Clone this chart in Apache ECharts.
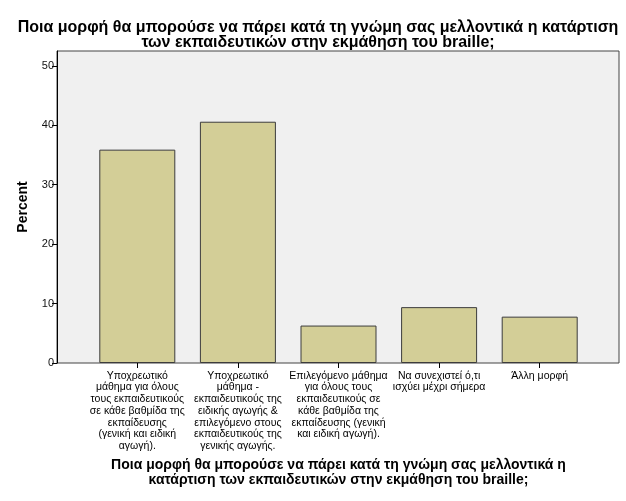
<!DOCTYPE html>
<html>
<head>
<meta charset="utf-8">
<script src="https://cdn.jsdelivr.net/npm/echarts@6/dist/echarts.min.js"></script>
<style>
  html, body { margin: 0; padding: 0; background: #fff; }
  #chart { width: 626px; height: 501px; }
</style>
</head>
<body>
<div id="chart"></div>
<script>
// categories (line breaks as in the original labels)
var categories = [
  'Υποχρεωτικό\nμάθημα για όλους\nτους εκπαιδευτικούς\nσε κάθε βαθμίδα της\nεκπαίδευσης\n(γενική και ειδική\nαγωγή).',
  'Υποχρεωτικό\nμάθημα -\nεκπαιδευτικούς της\nειδικής αγωγής &\nεπιλεγόμενο στους\nεκπαιδευτικούς της\nγενικής αγωγής.',
  'Επιλεγόμενο μάθημα\nγια όλους τους\nεκπαιδευτικούς σε\nκάθε βαθμίδα της\nεκπαίδευσης (γενική\nκαι ειδική αγωγή).',
  'Να συνεχιστεί ό,τι\nισχύει μέχρι σήμερα',
  'Άλλη μορφή'
];
var percent = [35.9, 40.6, 6.3, 9.4, 7.8];
var yTicks = [0, 10, 20, 30, 40, 50];

var titleText = 'Ποια μορφή θα μπορούσε να πάρει κατά τη γνώμη σας μελλοντικά η κατάρτιση\nτων εκπαιδευτικών στην εκμάθηση του braille;';
var xName = 'Ποια μορφή θα μπορούσε να πάρει κατά τη γνώμη σας μελλοντικά η\nκατάρτιση των εκπαιδευτικών στην εκμάθηση του braille;';

var font = '"Liberation Sans", Arial, sans-serif';
var chart = echarts.init(document.getElementById('chart'));

var option = {
  animation: false,
  textStyle: { fontFamily: font },
  title: {
    text: titleText,
    left: 313,
    top: 15,
    textAlign: 'center',
    textStyle: { fontSize: 16, fontWeight: 'bold', color: '#000', lineHeight: 15, fontFamily: font }
  },
  grid: [
    // frame with grey background
    { left: 57, top: 51, width: 562, height: 312, show: true,
      backgroundColor: '#f0f0f0', borderColor: '#444', borderWidth: 1 },
    // data area (categories inset from the frame)
    { left: 87, top: 51, width: 503, height: 312 }
  ],
  xAxis: [
    { gridIndex: 0, type: 'category', data: [''], show: false },
    {
      gridIndex: 1, type: 'category', data: categories,
      axisLine: { show: false },
      axisTick: { show: true, alignWithLabel: true, length: 5, lineStyle: { color: '#000' } },
      axisLabel: { interval: 0, margin: 7, fontSize: 10.5, lineHeight: 11.7, color: '#000', fontFamily: font },
      name: xName,
      nameLocation: 'middle',
      nameGap: 95,
      nameTextStyle: { fontSize: 14, fontWeight: 'bold', color: '#000', lineHeight: 15, fontFamily: font }
    }
  ],
  yAxis: [
    {
      gridIndex: 0, type: 'value', min: 0, max: 52.5, interval: 10,
      splitLine: { show: false },
      axisLine: { show: true, lineStyle: { color: '#000' } },
      axisTick: { show: true, length: 5, lineStyle: { color: '#000' } },
      axisLabel: { fontSize: 11, color: '#111', margin: 3, showMaxLabel: false, fontFamily: font,
        formatter: function (v) { return yTicks.indexOf(v) >= 0 ? String(v) : ''; } },
      name: 'Percent',
      nameLocation: 'middle',
      nameGap: 27,
      nameTextStyle: { fontSize: 14, fontWeight: 'bold', color: '#000', fontFamily: font }
    },
    { gridIndex: 1, type: 'value', min: 0, max: 52.5, interval: 10, show: false }
  ],
  series: [{
    type: 'bar',
    xAxisIndex: 1,
    yAxisIndex: 1,
    data: percent,
    barWidth: 76,
    itemStyle: { color: '#d3ce97', borderColor: '#3c3c3c', borderWidth: 1 }
  }]
};
chart.setOption(option);
</script>
</body>
</html>
